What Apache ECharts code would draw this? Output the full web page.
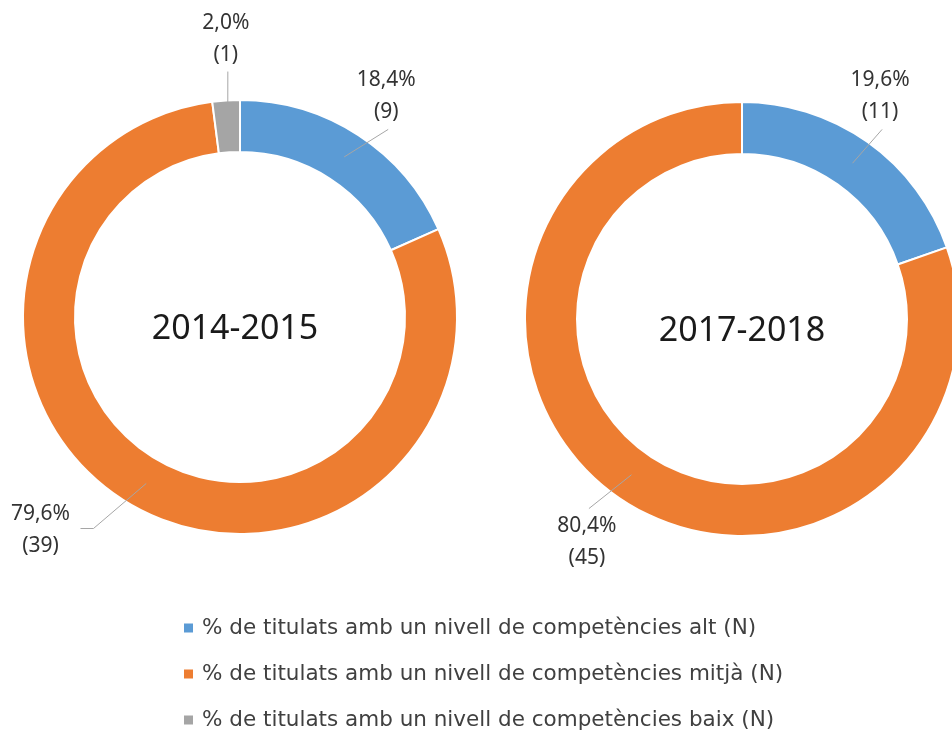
<!DOCTYPE html>
<html>
<head>
<meta charset="utf-8">
<script src="https://cdn.jsdelivr.net/npm/echarts@6/dist/echarts.min.js"></script>
<style>
    html, body { margin: 0; padding: 0; background: #fff; }
    #chart { width: 952px; height: 736px; }
</style>
</head>
<body>
<div id="chart"></div>
<script>
// nivells de competències (llegenda)
const levels = [
    '% de titulats amb un nivell de competències alt (N)',
    '% de titulats amb un nivell de competències mitjà (N)',
    '% de titulats amb un nivell de competències baix (N)'
]
// cursos
const periods = ['2014-2015', '2017-2018']
// nombre de titulats per nivell
const counts2014 = [9, 39, 1]
const counts2017 = [11, 45, 0]

const colors = ['#5B9BD5', '#ED7D31', '#A5A5A5']
const font = '"Noto Sans", sans-serif'

// geometria dels anells
const r0 = 165
const r1 = 217
const centers = [[240, 317], [742, 319]]
const titleOffsets = [-5, 0]
const labelDist = 268

// dades de cada anell
function buildData(counts) {
    return counts.map((v, i) => {
        const item = { name: levels[i], value: v }
        if (v === 0) {
            item.label = { show: false }
            item.labelLine = { show: false }
        }
        return item
    })
}

// etiquetes en direcció radial, línia des del mig de l'anell fins a sota/sobre l'etiqueta
function makeLayout(c, tweaks) {
    return function (params) {
        const p = params.labelLinePoints
        if (!p) return
        const dx = (p[0][0] - c[0]) / r1
        const dy = (p[0][1] - c[1]) / r1
        const rm = (r0 + r1) / 2
        const start = [c[0] + dx * rm, c[1] + dy * rm]
        let x = c[0] + dx * labelDist
        let y = c[1] + dy * labelDist + 4
        const t = tweaks[params.dataIndex] || {}
        if (t.shift) {
            x += t.shift[0]
            y += t.shift[1]
        }
        let pts
        if (t.elbow) {
            pts = [start, [x + 53, y - 2], [x + 40, y - 2]]
        } else {
            pts = [start, [x + 2, y - Math.sign(dy) * 33]]
        }
        return { x: x, y: y, align: 'center', verticalAlign: 'middle', labelLinePoints: pts }
    }
}

// anell de colors (sense etiquetes)
function ringSeries(counts, c) {
    return {
        type: 'pie',
        center: c,
        radius: [r0, r1],
        startAngle: 90,
        clockwise: true,
        data: buildData(counts),
        itemStyle: { borderColor: '#fff', borderWidth: 2 },
        label: { show: false },
        labelLine: { show: false },
        emphasis: { disabled: true },
        animation: false
    }
}

// mateix anell transparent per sobre, només per dibuixar etiquetes i línies damunt del color
function labelSeries(counts, c, tweaks) {
    return {
        type: 'pie',
        z: 5,
        silent: true,
        legendHoverLink: false,
        center: c,
        radius: [r0, r1],
        startAngle: 90,
        clockwise: true,
        avoidLabelOverlap: false,
        data: buildData(counts),
        itemStyle: { color: 'rgba(0,0,0,0)', borderWidth: 0 },
        label: {
            show: true,
            position: 'outside',
            formatter: p => p.percent.toFixed(1).replace('.', ',') + '%\n(' + p.value + ')',
            fontFamily: font,
            fontSize: 21,
            lineHeight: 32,
            color: '#333',
            align: 'center'
        },
        labelLine: {
            show: true,
            length: 20,
            length2: 0,
            lineStyle: { color: '#A6A6A6', width: 1 }
        },
        labelLayout: makeLayout(c, tweaks),
        emphasis: { disabled: true },
        animation: false
    }
}

const chart = echarts.init(document.getElementById('chart'))
chart.setOption({
    color: colors,
    animation: false,
    legend: {
        orient: 'vertical',
        left: 182,
        top: 616,
        padding: 0,
        icon: 'rect',
        itemWidth: 11,
        itemHeight: 11,
        itemGap: 22,
        data: levels,
        textStyle: {
            fontFamily: '"DejaVu Sans", sans-serif',
            fontSize: 21.5,
            color: '#404040',
            lineHeight: 24,
            padding: [0, 0, 0, 3]
        }
    },
    graphic: periods.map((t, i) => ({
        type: 'text',
        x: centers[i][0] + titleOffsets[i],
        y: centers[i][1] + 12,
        style: {
            text: t,
            font: '34px ' + font,
            fill: '#1a1a1a',
            align: 'center',
            verticalAlign: 'middle'
        }
    })),
    series: [
        ringSeries(counts2014, centers[0]),
        ringSeries(counts2017, centers[1]),
        labelSeries(counts2014, centers[0], { 1: { shift: [-68, -24], elbow: true }, 2: { shift: [3, -15] } }),
        labelSeries(counts2017, centers[1], { 0: { shift: [-17, -8] } })
    ]
})
</script>
</body>
</html>
